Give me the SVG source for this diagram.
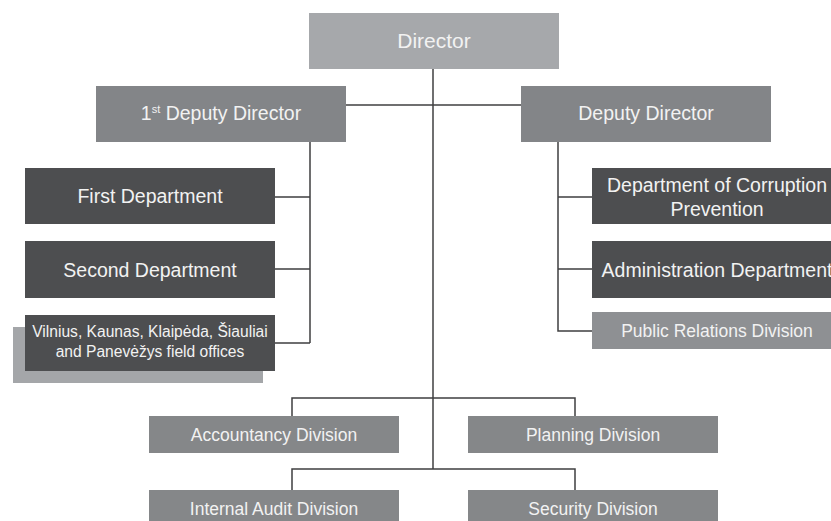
<svg xmlns="http://www.w3.org/2000/svg" width="831" height="521" viewBox="0 0 831 521">
  <style>
    text { font-family: "Liberation Sans", Arial, sans-serif; fill: #f2f2f2; text-anchor: middle; }
    .top { fill: #a6a8ab; }
    .mid { fill: #838588; }
    .dark { fill: #4d4e50; }
    .div { fill: #858789; }
    .pr { fill: #8e9093; }
    .shadow { fill: #a4a6a9; }
    .link { fill: none; stroke: #3f3f40; stroke-width: 1.5; }
    .t21 { font-size: 21px; }
    .t19 { font-size: 19.5px; }
    .t17 { font-size: 17.5px; }
    .t15 { font-size: 15.6px; }
  </style>

  <!-- connectors -->
  <g id="connectors">
    <path class="link" d="M433 69 V469"/>
    <path class="link" d="M346 105 H521"/>
    <path class="link" d="M310 142 V343 M275 197 H310 M275 269 H310 M275 343 H310"/>
    <path class="link" d="M558 142 V331 H592 M558 197 H592 M558 269 H592"/>
    <path class="link" d="M292 416 V398 H575 V416"/>
    <path class="link" d="M292 490 V469 H575 V490"/>
  </g>

  <g id="director">
    <rect class="top" x="309" y="13" width="250" height="56"/>
    <text class="t21" x="434" y="48">Director</text>
  </g>

  <g id="first-deputy-director">
    <rect class="mid" x="96" y="86" width="250" height="56"/>
    <text class="t19" x="221" y="120">1<tspan font-size="11" dy="-7">st</tspan><tspan dy="7"> Deputy Director</tspan></text>
  </g>

  <g id="deputy-director">
    <rect class="mid" x="521" y="86" width="250" height="56"/>
    <text class="t19" x="646" y="120">Deputy Director</text>
  </g>

  <g id="first-department">
    <rect class="dark" x="25" y="168" width="250" height="56"/>
    <text class="t19" x="150" y="203">First Department</text>
  </g>

  <g id="second-department">
    <rect class="dark" x="25" y="241" width="250" height="57"/>
    <text class="t19" x="150" y="277">Second Department</text>
  </g>

  <g id="field-offices">
    <rect class="shadow" x="13" y="327" width="250" height="56"/>
    <rect class="dark" x="25" y="315" width="250" height="56"/>
    <text class="t15" x="150" y="337">Vilnius, Kaunas, Klaipėda, Šiauliai</text>
    <text class="t15" x="150" y="357">and Panevėžys field offices</text>
  </g>

  <g id="corruption-prevention">
    <rect class="dark" x="592" y="168" width="250" height="56"/>
    <text class="t19" x="717" y="192">Department of Corruption</text>
    <text class="t19" x="717" y="216">Prevention</text>
  </g>

  <g id="administration-department">
    <rect class="dark" x="592" y="241" width="250" height="57"/>
    <text class="t19" x="717" y="277">Administration Department</text>
  </g>

  <g id="public-relations">
    <rect class="pr" x="592" y="312" width="250" height="37"/>
    <text class="t17" x="717" y="337">Public Relations Division</text>
  </g>

  <g id="accountancy">
    <rect class="div" x="149" y="416" width="250" height="37"/>
    <text class="t17" x="274" y="441">Accountancy Division</text>
  </g>

  <g id="planning">
    <rect class="div" x="468" y="416" width="250" height="37"/>
    <text class="t17" x="593" y="441">Planning Division</text>
  </g>

  <g id="internal-audit">
    <rect class="div" x="149" y="490" width="250" height="37"/>
    <text class="t17" x="274" y="515">Internal Audit Division</text>
  </g>

  <g id="security">
    <rect class="div" x="468" y="490" width="250" height="37"/>
    <text class="t17" x="593" y="515">Security Division</text>
  </g>
</svg>
